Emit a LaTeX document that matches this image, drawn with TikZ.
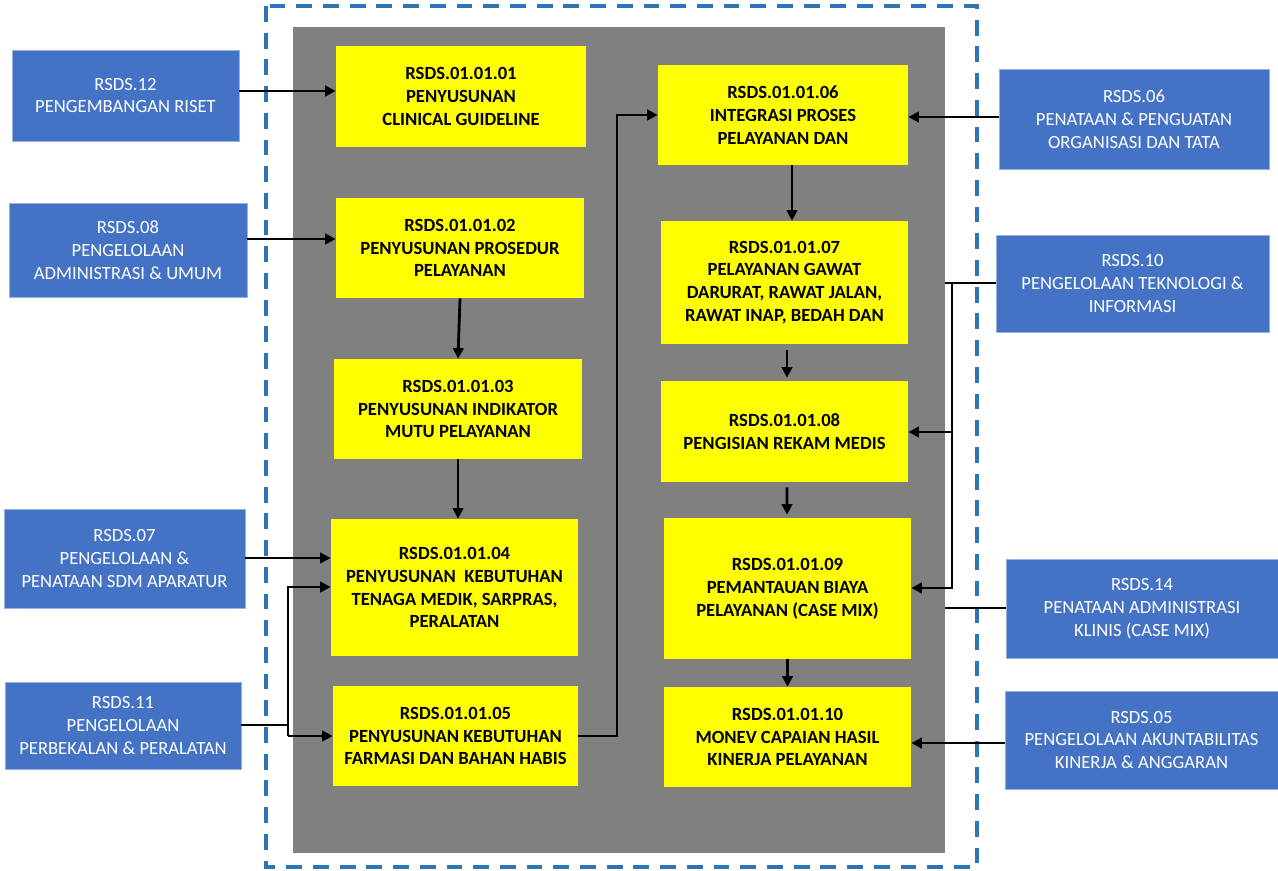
\documentclass[tikz,border=0pt]{standalone}
\usepackage{fontspec}
\setmainfont{Carlito}
\usetikzlibrary{shadows,arrows.meta,calc}
\definecolor{boxblue}{HTML}{4472C4}
\definecolor{frameblue}{HTML}{2E75B6}
\definecolor{panelgray}{HTML}{808080}
\definecolor{ylw}{HTML}{FFFF00}
\tikzset{
 bluebox/.style={fill=boxblue, draw=boxblue!55!white, line width=0.4pt, text=white, align=center, inner sep=0pt, font=\fontsize{10.6}{13}\selectfont},
 ybox/.style={fill=ylw, draw=none, align=center, inner sep=0pt, font=\fontsize{10.6}{13}\selectfont\bfseries, drop shadow={shadow xshift=1.2pt, shadow yshift=-1.5pt, opacity=0.45}},
 arr/.style={line width=1.6pt, -{Triangle[length=6pt,width=6pt]}},
 ln/.style={line width=1.6pt},
 frame/.style={draw=frameblue, line width=2pt, dash pattern=on 9pt off 6.2pt},
}
\newcommand\mkbox[7]{\node[#1, minimum width={(#5-#3)*0.02cm}, minimum height={(#6-#4)*0.02cm}] (#2) at ({(#3+#5)/2},{(#4+#6)/2}) {#7};}
\begin{document}
\begin{tikzpicture}[x=0.02cm,y=-0.02cm]
\useasboundingbox (0,0) rectangle (1278,870);
% frame and panel
\draw[frame] (266,6) rectangle (977,867);
\fill[panelgray] (293,27) rectangle (945,853);
% outside boxes
\mkbox{bluebox}{b12}{12}{50}{239}{141}{RSDS.12\\PENGEMBANGAN RISET}
\mkbox{bluebox}{b08}{9}{203}{247}{297}{RSDS.08\\PENGELOLAAN\\ADMINISTRASI \& UMUM}
\mkbox{bluebox}{b07}{4}{509}{245}{608}{RSDS.07\\PENGELOLAAN \&\\PENATAAN SDM APARATUR}
\mkbox{bluebox}{b11}{5}{682}{241}{769}{RSDS.11\\PENGELOLAAN\\PERBEKALAN \& PERALATAN}
\mkbox{bluebox}{b06}{999}{69}{1269}{169}{RSDS.06\\PENATAAN \& PENGUATAN\\ORGANISASI DAN TATA}
\mkbox{bluebox}{b10}{996}{235}{1269}{332}{RSDS.10\\PENGELOLAAN TEKNOLOGI \&\\INFORMASI}
\mkbox{bluebox}{b14}{1006}{559}{1278}{658}{RSDS.14\\PENATAAN ADMINISTRASI\\KLINIS (CASE MIX)}
\mkbox{bluebox}{b05}{1005}{691}{1278}{789}{RSDS.05\\PENGELOLAAN AKUNTABILITAS\\KINERJA \& ANGGARAN}
% process boxes
\mkbox{ybox}{y1}{336}{46}{586}{147}{RSDS.01.01.01\\PENYUSUNAN\\CLINICAL GUIDELINE}
\mkbox{ybox}{y2}{336}{198}{584}{298}{RSDS.01.01.02\\PENYUSUNAN PROSEDUR\\PELAYANAN}
\mkbox{ybox}{y3}{334}{359}{582}{459}{RSDS.01.01.03\\PENYUSUNAN INDIKATOR\\MUTU PELAYANAN}
\mkbox{ybox}{y4}{331}{519}{578}{656}{RSDS.01.01.04\\PENYUSUNAN\ \ KEBUTUHAN\\TENAGA MEDIK, SARPRAS,\\PERALATAN}
\mkbox{ybox}{y5}{333}{686}{578}{786}{RSDS.01.01.05\\PENYUSUNAN KEBUTUHAN\\FARMASI DAN BAHAN HABIS}
\mkbox{ybox}{y6}{658}{65}{908}{165}{RSDS.01.01.06\\INTEGRASI PROSES\\PELAYANAN DAN}
\mkbox{ybox}{y7}{661}{221}{908}{344}{RSDS.01.01.07\\PELAYANAN GAWAT\\DARURAT, RAWAT JALAN,\\RAWAT INAP, BEDAH DAN}
\mkbox{ybox}{y8}{661}{381}{908}{482}{RSDS.01.01.08\\PENGISIAN REKAM MEDIS}
\mkbox{ybox}{y9}{664}{518}{911}{659}{RSDS.01.01.09\\PEMANTAUAN BIAYA\\PELAYANAN (CASE MIX)}
\mkbox{ybox}{y10}{664}{687}{911}{787}{RSDS.01.01.10\\MONEV CAPAIAN HASIL\\KINERJA PELAYANAN}
% helper coordinates
\coordinate (h1) at (0,91);
\coordinate (h2) at (0,239);
\coordinate (h4) at (0,558);
\coordinate (h6) at (0,117);
\coordinate (h10) at (0,743);
\coordinate (j1) at (288,725);
\coordinate (jt) at (288,587);
\coordinate (jb) at (288,736);
\coordinate (k) at (617,115);
\coordinate (c67) at (792,0);
\coordinate (m1) at (945,283);
\coordinate (m2) at (952,283);
\coordinate (m3) at (952,588);
\coordinate (m4) at (952,432);
\coordinate (n1) at (945,608);
% left connectors
\draw[arr] (b12.east |- h1) -- (y1.west |- h1);
\draw[arr] (b08.east |- h2) -- (y2.west |- h2);
\draw[arr] (b07.east |- h4) -- (y4.west |- h4);
\draw[ln] (b11.east |- j1) -- (j1);
\draw[arr] (jb) -- (jt) -- (jt -| y4.west);
\draw[arr] (jb) -- (jb -| y5.west);
% internal flow
\draw[arr] (y2.south) -- (y3.north);
\draw[arr] (y3.south) -- (y3.south |- y4.north);
\draw[arr] (y5.east |- jb) -| (k) -- (k -| y6.west);
\draw[arr] (y6.south -| c67) -- (y7.north -| c67);
\draw[arr] ($(y7.south)+(2.5,6)$) -- ($(y8.north)+(2.5,-3)$);
\draw[arr] ($(y8.south)+(2.5,5)$) -- ($(y9.north)+(-0.5,-3)$);
\draw[arr] (y9.south) -- (y10.north);
% right connectors
\draw[arr] (b06.west |- h6) -- (y6.east |- h6);
\draw[ln] (b10.west |- m1) -- (m1);
\draw[arr] (m2) -- (m3) -- (m3 -| y9.east);
\draw[arr] (m4) -- (m4 -| y8.east);
\draw[ln] (n1) -- (n1 -| b14.west);
\draw[arr] (b05.west |- h10) -- (y10.east |- h10);
\end{tikzpicture}
\end{document}
